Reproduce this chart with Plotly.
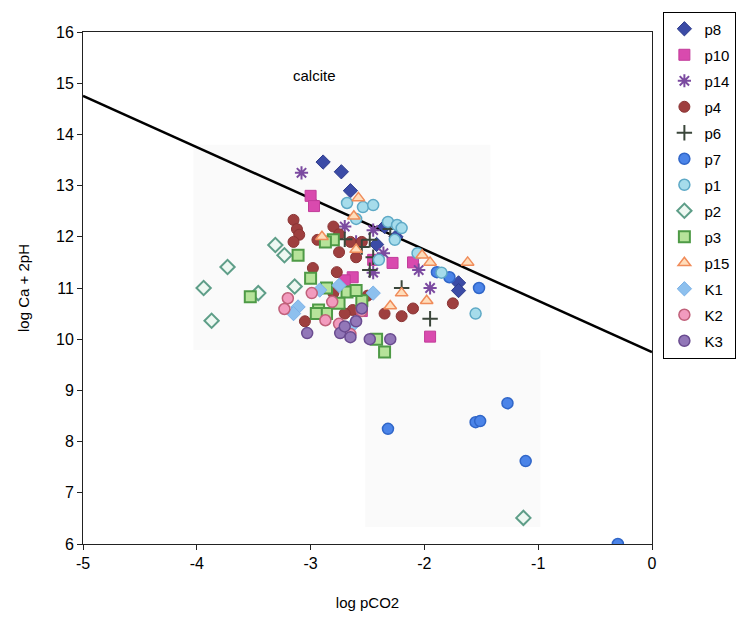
import plotly.graph_objects as go

# ---- data ----
line_x = [-5, 0]
line_y = [14.75, 9.75]

x_ticks = [-5, -4, -3, -2, -1, 0]
x_ticklabels = ["-5", "-4", "-3", "-2", "-1", "0"]
y_ticks = [6, 7, 8, 9, 10, 11, 12, 13, 14, 15, 16]
y_ticklabels = ["6", "7", "8", "9", "10", "11", "12", "13", "14", "15", "16"]

p8_x = [-2.89, -2.73, -2.65, -2.35, -2.25, -2.42, -1.70, -1.70]
p8_y = [13.46, 13.27, 12.90, 12.20, 12.00, 11.85, 11.10, 10.95]

p10_x = [-3.00, -2.97, -2.63, -2.28, -2.45, -2.10, -1.95, -2.55, -2.70]
p10_y = [12.80, 12.60, 11.21, 11.49, 11.55, 11.50, 10.05, 10.55, 11.15]

p14_x = [-3.08, -2.70, -2.45, -2.36, -2.60, -2.45, -2.05, -1.95]
p14_y = [13.25, 12.20, 12.13, 11.68, 11.90, 11.30, 11.35, 11.00]

p4_x = [-3.15, -3.12, -3.10, -3.15, -2.94, -2.80, -2.75, -2.65, -2.75, -2.55,
        -2.60, -2.98, -2.77, -2.63, -2.80, -2.70, -2.35, -2.20, -2.10, -2.50,
        -1.75, -3.05]
p4_y = [12.33, 12.15, 12.04, 11.90, 11.94, 12.20, 12.05, 11.90, 11.70, 11.90,
        11.60, 11.39, 11.31, 10.57, 10.90, 10.50, 10.50, 10.45, 10.60, 10.85,
        10.70, 10.35]

p6_x = [-2.70, -2.55, -2.48, -2.48, -2.45, -2.20, -1.95, -2.30]
p6_y = [11.95, 11.80, 11.94, 11.35, 11.60, 11.00, 10.40, 12.15]

p7_x = [-2.32, -1.55, -1.51, -1.27, -1.11, -0.30, -1.89, -1.78, -1.52]
p7_y = [8.25, 8.38, 8.40, 8.75, 7.62, 6.00, 11.31, 11.21, 11.00]

p1_x = [-2.68, -2.54, -2.45, -2.60, -2.32, -2.24, -2.20, -2.26, -2.06, -1.85,
        -1.55, -2.40]
p1_y = [12.66, 12.58, 12.62, 12.35, 12.29, 12.23, 12.17, 11.94, 11.68, 11.30,
        10.50, 11.55]

p2_x = [-3.31, -3.23, -3.73, -3.94, -3.87, -3.46, -3.14, -1.13]
p2_y = [11.84, 11.64, 11.41, 11.00, 10.36, 10.90, 11.03, 6.51]

p3_x = [-3.11, -2.80, -2.87, -3.53, -3.00, -2.86, -2.68, -2.93, -2.86, -2.55,
        -2.75, -2.35, -2.42, -2.60, -2.95]
p3_y = [11.64, 11.94, 11.90, 10.83, 11.19, 11.00, 10.92, 10.57, 10.50, 10.75,
        10.70, 9.75, 10.00, 10.95, 10.50]

p15_x = [-2.90, -2.62, -2.58, -2.60, -2.02, -2.30, -2.20, -1.98, -1.95, -1.62]
p15_y = [12.00, 12.40, 12.76, 11.75, 11.64, 10.65, 10.90, 10.75, 11.50, 11.50]

K1_x = [-3.11, -2.92, -2.75, -2.45, -3.15, -2.62]
K1_y = [10.63, 10.96, 11.05, 10.90, 10.50, 10.30]

K2_x = [-3.20, -3.23, -2.99, -2.81, -2.87, -2.75, -2.65, -2.55]
K2_y = [10.80, 10.59, 10.90, 10.73, 10.37, 10.30, 10.10, 10.55]

K3_x = [-3.03, -2.74, -2.65, -2.70, -2.60, -2.48, -2.30, -2.55]
K3_y = [10.12, 10.12, 10.04, 10.25, 10.35, 10.00, 10.00, 10.60]

series = [
    ("p8", p8_x, p8_y, dict(symbol="diamond", color="#3B4BA6", size=11,
                            line=dict(color="#2E3C8C", width=1))),
    ("p10", p10_x, p10_y, dict(symbol="square", color="#D94AAE", size=11,
                               line=dict(color="#C23C9A", width=1))),
    ("p14", p14_x, p14_y, dict(symbol="asterisk-open", color="#7B4AA0", size=11,
                               line=dict(color="#7B4AA0", width=2))),
    ("p4", p4_x, p4_y, dict(symbol="circle", color="#9E3F3F", size=11,
                            line=dict(color="#8A3434", width=1))),
    ("p6", p6_x, p6_y, dict(symbol="cross-thin-open", color="#3A463A", size=11,
                            line=dict(color="#3A463A", width=2))),
    ("p7", p7_x, p7_y, dict(symbol="circle", color="#4B84E8", size=11,
                            line=dict(color="#3066C8", width=1.5))),
    ("p1", p1_x, p1_y, dict(symbol="circle", color="#A6DCEB", size=11,
                            line=dict(color="#5EA9C6", width=1.5))),
    ("p2", p2_x, p2_y, dict(symbol="diamond", color="#EEF8F2", size=11,
                            line=dict(color="#5E9E88", width=2))),
    ("p3", p3_x, p3_y, dict(symbol="square", color="#B6E39A", size=11,
                            line=dict(color="#4E9A46", width=2))),
    ("p15", p15_x, p15_y, dict(symbol="triangle-up", color="#FFDDBB", size=11,
                               line=dict(color="#F08C5A", width=1.5))),
    ("K1", K1_x, K1_y, dict(symbol="diamond", color="#8DC0EE", size=11,
                            line=dict(color="#7AB0E6", width=1))),
    ("K2", K2_x, K2_y, dict(symbol="circle", color="#F29BBE", size=11,
                            line=dict(color="#C0607A", width=1.5))),
    ("K3", K3_x, K3_y, dict(symbol="circle", color="#9277B8", size=11,
                            line=dict(color="#6A4C90", width=1.5))),
]

fig = go.Figure()

fig.add_trace(go.Scatter(x=line_x, y=line_y, mode="lines",
                         line=dict(color="black", width=2.5),
                         showlegend=False, hoverinfo="skip"))

for name, xs, ys, mk in series:
    fig.add_trace(go.Scatter(x=xs, y=ys, mode="markers", name=name,
                             legendgroup=name, marker=mk))

# faint scan shading regions
fig.add_shape(type="rect", xref="x", yref="y", x0=-4.03, x1=-1.42, y0=9.79, y1=13.8,
              fillcolor="#fafafa", line=dict(width=0), layer="below")
fig.add_shape(type="rect", xref="x", yref="y", x0=-2.52, x1=-0.98, y0=6.33, y1=9.79,
              fillcolor="#fafafa", line=dict(width=0), layer="below")

fig.add_annotation(x=-2.97, y=15.15, xref="x", yref="y", text="calcite",
                   showarrow=False, font=dict(size=15, color="black"))

axis_common = dict(showgrid=False, zeroline=False, showline=True, linecolor="#222",
                   linewidth=1, mirror=True, ticks="outside", ticklen=5,
                   tickcolor="#222", tickfont=dict(size=16, color="black"))

fig.update_xaxes(range=[-5, 0], tickmode="array", tickvals=x_ticks, ticktext=x_ticklabels,
                 title=dict(text="log pCO2", font=dict(size=15, color="black"), standoff=26),
                 **axis_common)
fig.update_yaxes(range=[6, 16], tickmode="array", tickvals=y_ticks, ticktext=y_ticklabels,
                 title=dict(text="log Ca + 2pH", font=dict(size=15, color="black"), standoff=22),
                 **axis_common)

fig.update_layout(
    width=752, height=623,
    margin=dict(l=83, r=100, t=32, b=79),
    paper_bgcolor="white", plot_bgcolor="white",
    font=dict(family="Liberation Sans, Arial, sans-serif", color="black"),
    legend=dict(x=1.02, y=1.04, xanchor="left", yanchor="top",
                bordercolor="black", borderwidth=1, bgcolor="white",
                font=dict(size=15), tracegroupgap=3.5, itemwidth=30,
                maxheight=1.0),
)

fig.write_html("out.html")
